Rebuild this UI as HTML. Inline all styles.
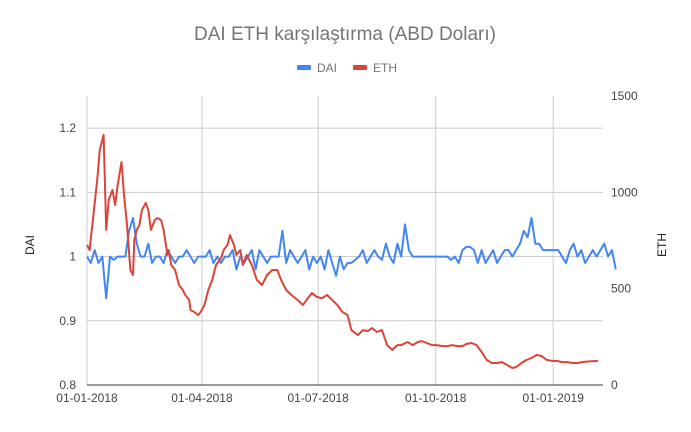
<!DOCTYPE html>
<html><head><meta charset="utf-8">
<style>
body{margin:0;background:#fff;font-family:"Liberation Sans",sans-serif;}
svg text{font-family:"Liberation Sans",sans-serif;}
</style></head>
<body>
<svg width="691" height="427" viewBox="0 0 691 427" xmlns="http://www.w3.org/2000/svg">
<rect width="691" height="427" fill="#fff"/>
<text x="345" y="40" text-anchor="middle" font-size="19" fill="#757575">DAI  ETH karşılaştırma (ABD Doları)</text>
<g>
<g><rect x="297" y="65" width="14" height="5" rx="1" fill="#4285f4"/><text x="317" y="72" font-size="12" fill="#757575">DAI</text></g>
<g><rect x="353" y="65" width="14" height="5" rx="1" fill="#db4437"/><text x="373" y="72" font-size="12" fill="#757575">ETH</text></g>
</g>
<g id="grid"></g>
<g id="axes"></g>
<g id="series"></g>
<text transform="translate(34,245) rotate(-90)" text-anchor="middle" font-size="12" fill="#222">DAI</text>
<text transform="translate(666,245) rotate(-90)" text-anchor="middle" font-size="12" fill="#222">ETH</text>
</svg>
<script>
const xTickLabels=["01-01-2018","01-04-2018","01-07-2018","01-10-2018","01-01-2019"];
const xTickDays=[0,90,181,273,365];
const leftTicks=[0.8,0.9,1,1.1,1.2];
const rightTicks=[0,500,1000,1500];
const ethDays=[0,2,5,8,10,12,13,15,17,20,22,24,27,29,31,34,36,37,39,41,43,46,48,50,53,55,58,60,63,64,66,69,72,75,77,80,81,84,87,89,92,95,98,101,104,105,107,110,112,115,117,120,122,125,129,133,137,141,145,149,152,156,160,165,169,173,176,180,184,188,192,196,200,204,207,212,216,220,223,227,231,235,239,243,246,251,255,259,262,266,270,274,278,282,286,290,294,297,301,305,309,313,317,321,325,329,333,336,340,344,348,352,356,360,364,368,372,376,380,384,388,392,400,404];
const ethVals=[727,700,882,1064,1220,1272,1298,805,960,1012,934,1038,1157,986,856,597,571,753,805,830,908,945,908,805,856,867,856,805,675,700,623,597,519,493,467,441,389,379,363,379,415,493,545,623,649,659,700,727,778,727,675,700,623,675,623,545,519,571,597,597,545,493,467,441,415,451,477,457,451,467,441,415,379,363,285,259,285,280,296,275,285,207,182,207,207,223,207,223,228,218,207,207,202,202,207,202,202,213,218,207,171,130,114,114,119,104,88,93,114,130,140,156,150,130,125,125,119,119,114,114,119,122,125];
const daiVals=[1.0,0.99,1.01,0.99,1.0,0.935,1.0,0.995,1.0,1.0,1.0,1.04,1.06,1.02,1.0,1.0,1.02,0.99,1.0,1.0,0.99,1.01,1.0,0.99,1.0,1.0,1.01,1.0,0.99,1.0,1.0,1.0,1.01,0.99,1.0,0.99,1.0,1.0,1.01,0.98,1.0,0.99,1.0,1.01,0.98,1.01,1.0,0.99,1.0,1.0,1.0,1.04,0.99,1.01,1.0,0.99,1.0,1.01,0.98,1.0,0.99,1.0,0.98,1.01,0.99,0.97,1.0,0.98,0.99,0.99,0.995,1.0,1.01,0.99,1.0,1.01,1.0,0.995,1.02,1.0,0.99,1.02,1.0,1.05,1.01,1.0,1.0,1.0,1.0,1.0,1.0,1.0,1.0,1.0,1.0,0.995,1.0,0.99,1.01,1.015,1.015,1.01,0.99,1.01,0.99,1.0,1.01,0.99,1.0,1.01,1.01,1.0,1.01,1.02,1.04,1.03,1.06,1.02,1.02,1.01,1.01,1.01,1.01,1.01,1.0,0.99,1.01,1.02,1.0,1.01,0.99,1.0,1.01,1.0,1.01,1.02,1.0,1.01,0.98];
const daiStep=3;
const X0=87,X1=603,D1=404,YT=96,YB=385;
function x(d){return X0+(X1-X0)*d/D1;}
function yL(v){return YB-(v-0.8)/0.45*(YB-YT);}
function yR(v){return YB-v/1500*(YB-YT);}
const NS="http://www.w3.org/2000/svg";
function mk(tag,attrs,parent){const e=document.createElementNS(NS,tag);for(const k in attrs)e.setAttribute(k,attrs[k]);document.getElementById(parent).appendChild(e);return e;}
leftTicks.forEach(v=>{
 const l=mk('line',{x1:X0,x2:X1,y1:yL(v),y2:yL(v),stroke:v===0.8?'#333':'#ccc','stroke-width':1},'grid');
 
 
 const t=mk('text',{x:76,y:yL(v)+4,'text-anchor':'end','font-size':12,fill:'#444'},'axes');
 t.textContent=String(v);
 
 
});
rightTicks.forEach(v=>{
 const t=mk('text',{x:611,y:yR(v)+4,'font-size':12,fill:'#444'},'axes');
 t.textContent=String(v);
 
 
});
xTickDays.forEach((d,i)=>{
 const l=mk('line',{x1:x(d),x2:x(d),y1:YT,y2:YB,stroke:'#ccc','stroke-width':1},'grid');
 
 
 const t=mk('text',{x:x(d),y:402,'text-anchor':'middle','font-size':12,fill:'#444'},'axes');
 t.textContent=xTickLabels[i];
 
 
});
const ax=mk('line',{x1:X0,x2:X1,y1:YB,y2:YB,stroke:'#333','stroke-width':1},'axes');


let pd=daiVals.map((v,i)=>(i?'L':'M')+x(i*daiStep).toFixed(1)+','+yL(v).toFixed(1)).join('');
const dp=mk('path',{d:pd,fill:'none',stroke:'#4285f4','stroke-width':2,'stroke-linejoin':'round'},'series');


let pe=ethVals.map((v,i)=>(i?'L':'M')+x(ethDays[i]).toFixed(1)+','+yR(v).toFixed(1)).join('');
const ep=mk('path',{d:pe,fill:'none',stroke:'#db4437','stroke-width':2,'stroke-linejoin':'round'},'series');


</script>
</body></html>
